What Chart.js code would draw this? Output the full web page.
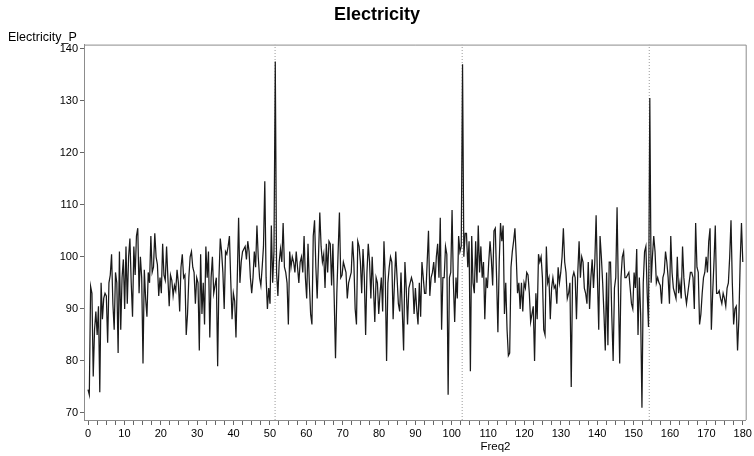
<!DOCTYPE html>
<html>
<head>
<meta charset="utf-8">
<title>Electricity</title>
<script src="https://cdn.jsdelivr.net/npm/chart.js@4.4.1/dist/chart.umd.min.js"></script>
<style>
  html, body { margin: 0; padding: 0; background: #fff; }
  #chart { display: block; }
</style>
</head>
<body>
<canvas id="chart" width="754" height="456"></canvas>
<script>
// === DATA ===
const freqStep = 0.36;
const power = [
  74.5, 73.5, 94.3, 93, 77, 86, 89.5, 85, 90.5, 74, 95, 88, 92, 93, 92.5, 83.5, 95, 96.5, 100.5, 91, 86, 97, 95, 81.5, 101,
  86, 96, 99.5, 90, 102, 91, 100, 103.5, 95, 88.5, 102, 96.5, 104, 105.5, 93, 100, 96, 79.5, 97.5, 92, 88.5, 97, 95, 104, 97,
  98, 104.5, 100, 98.5, 92.5, 96, 93, 102.5, 96.5, 95.5, 102, 96, 90.5, 96.5, 95.5, 92.5, 94.5, 93.5, 97.5, 95, 89.5, 98, 100.5, 96, 96.5,
  85, 89, 96, 100, 101, 98, 97, 91, 96, 95, 82, 100.5, 89, 95, 87, 102, 96, 101, 84.5, 96, 100, 93, 94.5, 96, 79,
  96, 103.5, 101, 97, 90, 101, 100.5, 102, 104, 95.5, 88, 93, 91.5, 84.5, 96, 107.5, 95, 99, 101, 101.5, 102, 99.5, 103, 101, 96,
  93, 96, 101, 98, 106, 100, 96, 94.5, 98, 102, 114.5, 96, 90, 94, 91, 106, 95, 101, 137.5, 97, 92.5, 99, 101.5, 99, 106.5,
  98, 97, 95, 87, 101, 98, 100, 99, 97, 101, 98, 95, 99, 100, 97, 104, 96, 92, 102.5, 95, 89, 87, 104, 107, 98,
  92, 100, 108.5, 102, 99, 100.5, 94, 102.5, 97, 103, 102.5, 94.5, 102.5, 92, 80.5, 93, 101, 108.5, 96, 96.5, 99, 98, 97, 92, 95,
  96, 97, 103, 99, 90, 87, 103, 102, 99, 93, 101.5, 96, 85, 97, 102.5, 99, 92, 100, 94, 87.5, 96, 95, 89, 93, 96,
  89.5, 103, 96, 80, 95, 98, 100, 99, 88, 95, 101, 96, 91, 89.5, 97, 89.5, 82, 99, 94, 87, 94, 95, 96, 95, 89,
  94, 90, 87, 95, 88.5, 99, 96, 93, 93, 99, 105, 92.5, 96, 97, 99, 95, 100, 102.5, 96, 107.5, 86, 96, 96, 102, 100.5,
  73.5, 96, 97, 109, 95, 87.5, 96, 92, 104, 101, 102, 137, 100, 104.5, 104.5, 98, 103, 78, 104, 95, 93, 103, 95, 106, 97,
  102, 96, 99, 88, 96, 94, 99, 103, 99.5, 94.5, 105, 105.5, 96, 85.5, 99, 106.5, 103, 106, 89, 95, 86, 81, 81.5, 98, 101,
  103, 105.5, 100, 93, 95, 90, 95, 89.5, 95, 94, 97, 96.5, 93, 87.5, 89, 90.5, 80, 93, 88, 100.5, 99, 100, 96, 86, 85,
  102, 95, 96, 88, 94, 96, 94, 94.5, 91, 98, 95, 97, 100, 105.5, 99, 97, 92, 93, 95, 75, 96, 97, 96, 88, 97,
  103, 96, 100, 99, 94, 93, 91, 99, 90, 96, 99.5, 94, 99, 108, 96, 86, 104, 100, 95, 89, 82, 97, 83, 99, 99,
  88.5, 80, 94, 96, 109.5, 93.5, 79.5, 96, 100, 101, 96, 96, 96.5, 97, 94, 91, 90, 97, 94, 101.5, 85, 96, 89, 71, 95,
  101, 102, 93, 86.5, 130.5, 95, 100, 104, 101, 95, 96, 95, 94.5, 91, 96, 97, 101, 99, 96, 91, 104, 97, 94, 93, 92,
  100, 93, 95, 92, 102, 96, 93, 91, 93, 95, 97, 97, 96, 90, 106.5, 98, 97, 87, 89, 93, 96, 97, 100, 97, 103,
  105.5, 86, 93, 99, 106, 93, 93, 93.5, 92, 91, 93, 92, 90.5, 94, 95, 100, 107, 95, 87, 90, 90.5, 82, 88, 99, 106.5,
  99
];
const refLines = [51.43, 102.86, 154.29];
const xTicks = [0, 10, 20, 30, 40, 50, 60, 70, 80, 90, 100, 110, 120, 130, 140, 150, 160, 170, 180];
const yTicks = [70, 80, 90, 100, 110, 120, 130, 140];
const xLabel = "Freq2";

const xMin = -1.1, xMax = 180.8;
const yMin = 68.65, yMax = 140.77;

Chart.defaults.font.family = "'Liberation Sans', Arial, sans-serif";
Chart.defaults.color = "#000";

// minor tick marks every 2.5 between the labelled ones
const xTickMarks = [];
xTicks.forEach((t, i) => {
  xTickMarks.push(t);
  if (i < xTicks.length - 1) {
    const next = xTicks[i + 1];
    for (let m = 1; m < 4; m++) xTickMarks.push(t + (next - t) * m / 4);
  }
});

const seriesData = power.map((v, i) => ({ x: +(i * freqStep).toFixed(2), y: v }));

const refDatasets = refLines.map((f) => ({
  data: [{ x: f, y: yMin }, { x: f, y: yMax }],
  borderColor: "#9a9a9a",
  borderWidth: 1,
  borderDash: [1, 2],
  pointRadius: 0,
}));

// frame on top and right side + the x axis label (sits right of centre in the original)
const framePlugin = {
  id: "frame",
  afterDraw(chart) {
    const { ctx, chartArea: a } = chart;
    ctx.save();
    ctx.strokeStyle = "#8c8c8c";
    ctx.lineWidth = 1;
    ctx.beginPath();
    ctx.moveTo(a.left, a.top + 0.5);
    ctx.lineTo(a.right + 0.5, a.top + 0.5);
    ctx.lineTo(a.right + 0.5, a.bottom);
    ctx.stroke();

    ctx.fillStyle = "#000";
    ctx.font = "11.5px 'Liberation Sans', Arial, sans-serif";
    ctx.textAlign = "center";
    ctx.textBaseline = "middle";
    ctx.fillText(xLabel, chart.scales.x.getPixelForValue(112), a.bottom + 27);
    ctx.restore();
  },
};

const ctx = document.getElementById("chart").getContext("2d");
new Chart(ctx, {
  type: "line",
  data: {
    datasets: [
      {
        data: seriesData,
        borderColor: "#1a1a1a",
        borderWidth: 1.25,
        pointRadius: 0,
        tension: 0,
      },
      ...refDatasets,
    ],
  },
  options: {
    responsive: false,
    animation: false,
    layout: { padding: { left: 8, right: 8, top: 0, bottom: 0 } },
    plugins: {
      legend: { display: false },
      tooltip: { enabled: false },
      title: {
        display: true,
        text: "Electricity",
        color: "#000",
        font: { size: 18, weight: "bold" },
        padding: { top: 4, bottom: 2 },
      },
      subtitle: {
        display: true,
        text: "Electricity_P",
        align: "start",
        color: "#000",
        font: { size: 12.5 },
        padding: { top: 2, bottom: 0 },
      },
    },
    scales: {
      x: {
        type: "linear",
        min: xMin,
        max: xMax,
        afterBuildTicks: (scale) => { scale.ticks = xTickMarks.map((v) => ({ value: v })); },
        afterFit: (scale) => { scale.height = 36; },
        ticks: {
          autoSkip: false,
          maxRotation: 0,
          padding: 2,
          font: { size: 11 },
          callback: (v) => (xTicks.includes(v) ? String(v) : ""),
        },
        grid: { drawOnChartArea: false, tickLength: 5, tickColor: "#666" },
        border: { color: "#8c8c8c" },
      },
      y: {
        min: yMin,
        max: yMax,
        afterBuildTicks: (scale) => { scale.ticks = yTicks.map((v) => ({ value: v })); },
        afterFit: (scale) => { scale.width = 76; },
        ticks: { padding: 2, font: { size: 11 } },
        grid: { drawOnChartArea: false, tickLength: 4, tickColor: "#666" },
        border: { color: "#8c8c8c" },
      },
    },
  },
  plugins: [framePlugin],
});
</script>
</body>
</html>
